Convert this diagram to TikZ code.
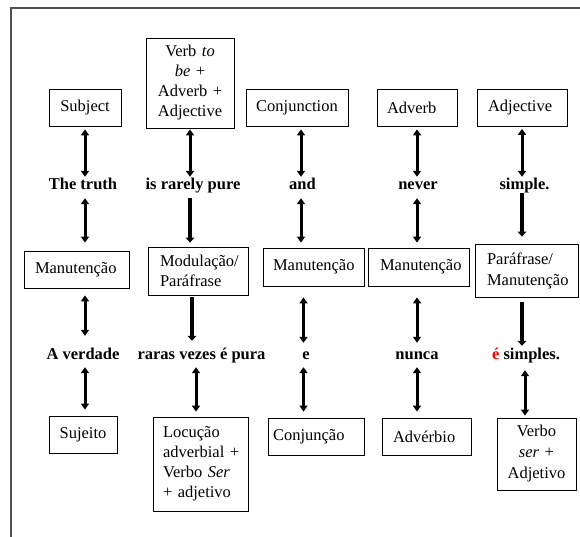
\documentclass[tikz,border=0pt]{standalone}
\usepackage{fontspec}
\setmainfont{Liberation Serif}
\usetikzlibrary{arrows.meta}
\definecolor{framegray}{HTML}{505050}
\begin{document}
\begin{tikzpicture}[x=1pt,y=-1pt,
  every node/.style={font=\fontsize{16.5}{20}\selectfont},
  box/.style={draw=black, line width=0.8pt, inner ysep=0pt, minimum height=37pt},
  lbox/.style={box, align=left},
  cbox/.style={box, align=center, inner xsep=6pt},
  word/.style={font=\fontsize{16.5}{20}\selectfont\bfseries, inner sep=0pt,
    text height=12pt, text depth=4pt, anchor=base},
  dbl/.style={line width=3pt,
    {Triangle[width=8pt,length=6pt]}-{Triangle[width=8pt,length=6pt]}},
  down/.style={line width=4pt, -{Triangle[width=8.5pt,length=5pt]}},
]
\useasboundingbox (0,0) rectangle (580,536);

% page frame
\draw[framegray, line width=2pt] (11,537) -- (11,7.7) -- (581,7.7);

% English categories
\node[cbox, text width=60pt] (subj) at (85,107.5) {Subject};
\node[cbox, text width=76pt, minimum height=90pt] (verb) at (190,83)
  {Verb~\textit{to}\\\textit{be}~+\\Adverb~+\\Adjective};
\node[cbox, text width=90pt] (conj) at (297,107.5) {Conjunction};
\node[lbox, text width=60pt, inner xsep=10pt] (adv) at (417,107.5) {Adverb};
\node[lbox, text width=68pt, inner xsep=11pt] (adj) at (522,108) {Adjective};

% English sentence
\node[word] (truth) at (83,189) {The truth};
\node[word] (rarely) at (193,189) {is rarely pure};
\node[word] (and) at (302.5,189) {and};
\node[word] (never) at (418,189) {never};
\node[word] (simple) at (524.5,189) {simple.};

% translation procedures
\node[lbox, text width=83pt, inner xsep=11pt] (man1) at (76.5,269.5) {Manutenção};
\node[lbox, text width=76pt, inner xsep=12pt, minimum height=48pt] (mod) at (198,271)
  {Modulação/\\Paráfrase};
\node[lbox, text width=81pt, inner xsep=10pt, minimum height=38pt] (man2) at (313.5,267) {Manutenção};
\node[lbox, text width=77pt, inner xsep=12pt, minimum height=38pt] (man3) at (418.5,267) {Manutenção};
\node[lbox, text width=79pt, inner xsep=12pt, minimum height=53pt] (para) at (526.5,270.5)
  {Paráfrase/\\[1pt]Manutenção};

% Portuguese sentence
\node[word] (verdade) at (83,359) {A verdade};
\node[word] (raras) at (201.5,359) {raras vezes é pura};
\node[word] (e) at (306,359) {e};
\node[word] (nunca) at (417,359) {nunca};
\node[word] (esimples) at (526,359) {{\color{red}é} simples.};

% Portuguese categories
\node[cbox, text width=56pt] (suj) at (83,434.5) {Sujeito};
\node[lbox, text width=75pt, inner xsep=10pt, minimum height=94pt] (loc) at (200.5,464)
  {Locução\\adverbial~+\\Verbo~\textit{Ser}\\+~adjetivo};
\node[lbox, text width=86pt, inner xsep=5pt] (conjpt) at (316,436.5) {Conjunção};
\node[lbox, text width=67pt, inner xsep=11pt] (advpt) at (426.5,436.5) {Advérbio};
\node[cbox, text width=67pt, minimum height=72pt] (verbo) at (536.5,454)
  {Verbo\\[1pt]\textit{ser}~+\\[1pt]Adjetivo};

% column 1
\draw[dbl, shorten <=3pt] (subj) -- (subj |- truth.north);
\draw[dbl, shorten <=5pt, shorten >=8pt] (subj |- truth.south) -- (subj |- man1.north);
\draw[dbl, shorten <=7pt, shorten >=11pt] (subj |- man1.south) -- (subj |- verdade.north);
\draw[dbl, shorten <=4pt, shorten >=6pt] (subj |- verdade.south) -- (subj |- suj.north);

% column 2
\draw[dbl, shorten <=1pt] (verb) -- (verb |- rarely.north);
\draw[down, shorten <=5pt, shorten >=4pt] (verb |- rarely.south) -- (verb |- mod.north);
\draw[down, shorten <=2pt, shorten >=6pt] ([xshift=-6pt]mod.south) -- ([xshift=-6pt]mod.south |- raras.north);
\draw[dbl, shorten <=4pt, shorten >=5pt] ([xshift=-4.5pt]loc.north |- raras.south) -- ([xshift=-4.5pt]loc.north);

% column 3
\draw[dbl, shorten <=3pt] ([xshift=4pt]conj.south) -- ([xshift=4pt]conj.south |- and.north);
\draw[dbl, shorten <=5pt, shorten >=5pt] ([xshift=4pt]conj.south |- and.south) -- ([xshift=4pt]conj.south |- man2.north);
\draw[dbl, shorten <=11pt, shorten >=4pt] ([xshift=-10pt]man2.south) -- ([xshift=-10pt]man2.south |- e.north);
\draw[dbl, shorten <=4pt, shorten >=6pt] ([xshift=-10pt]man2.south |- e.south) -- ([xshift=-10pt]man2.south |- conjpt.north);

% column 4
\draw[dbl, shorten <=3pt] (adv) -- (adv |- never.north);
\draw[dbl, shorten <=5pt, shorten >=5pt] (adv |- never.south) -- (adv |- man3.north);
\draw[dbl, shorten <=11pt, shorten >=4pt] (adv |- man3.south) -- (adv |- nunca.north);
\draw[dbl, shorten <=4pt, shorten >=6pt] (adv |- nunca.south) -- (adv |- advpt.north);

% column 5
\draw[dbl, shorten <=2pt] (adj) -- (adj |- simple.north);
\draw[down, shorten >=7pt] (adj |- simple.south) -- (adj |- para.north);
\draw[down, shorten <=5pt, shorten >=1pt] (adj |- para.south) -- (adj |- esimples.north);
\draw[dbl, shorten <=7pt, shorten >=2pt] ([xshift=-11.5pt]verbo.north |- esimples.south) -- ([xshift=-11.5pt]verbo.north);
\end{tikzpicture}
\end{document}
